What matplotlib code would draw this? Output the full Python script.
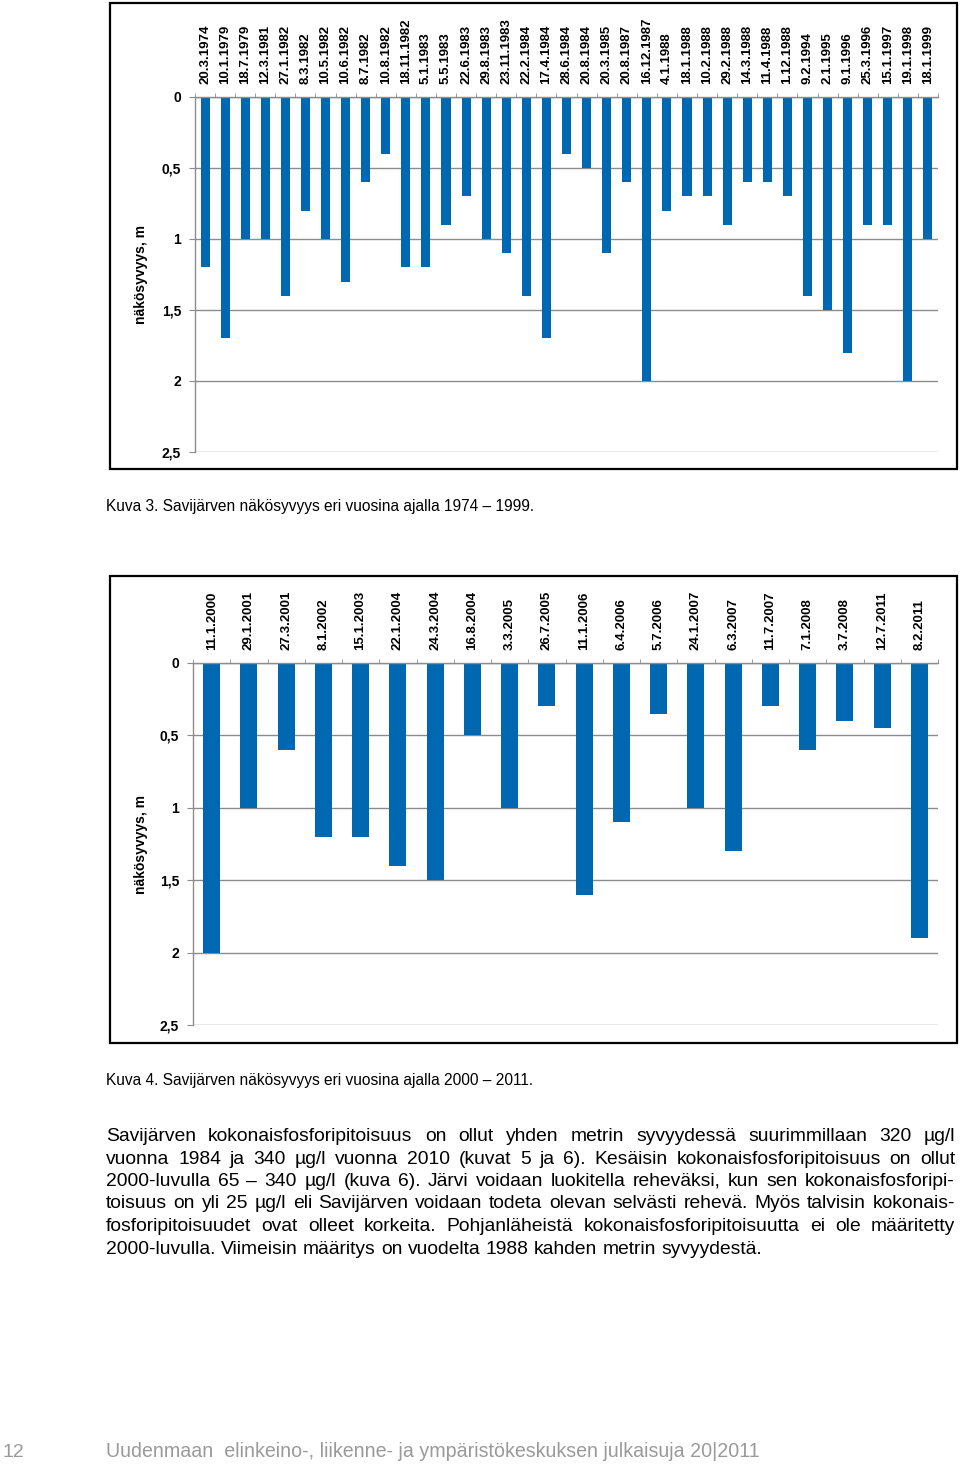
import matplotlib.pyplot as plt
from matplotlib.patches import Rectangle
from matplotlib.ticker import FixedLocator
import numpy as np

plt.rcParams['font.family'] = ['Liberation Sans', 'DejaVu Sans']

# Kuva 3 data (1974-1999)
dates_1 = ["20.3.1974", "10.1.1979", "18.7.1979", "12.3.1981", "27.1.1982", "8.3.1982",
           "10.5.1982", "10.6.1982", "8.7.1982", "10.8.1982", "18.11.1982", "5.1.1983",
           "5.5.1983", "22.6.1983", "29.8.1983", "23.11.1983", "22.2.1984", "17.4.1984",
           "28.6.1984", "20.8.1984", "20.3.1985", "20.8.1987", "16.12.1987", "4.1.1988",
           "18.1.1988", "10.2.1988", "29.2.1988", "14.3.1988", "11.4.1988", "1.12.1988",
           "9.2.1994", "2.1.1995", "9.1.1996", "25.3.1996", "15.1.1997", "19.1.1998",
           "18.1.1999"]
depth_1 = [1.2, 1.7, 1.0, 1.0, 1.4, 0.8, 1.0, 1.3, 0.6, 0.4, 1.2, 1.2, 0.9, 0.7, 1.0, 1.1,
           1.4, 1.7, 0.4, 0.5, 1.1, 0.6, 2.0, 0.8, 0.7, 0.7, 0.9, 0.6, 0.6, 0.7, 1.4, 1.5,
           1.8, 0.9, 0.9, 2.0, 1.0]

# Kuva 4 data (2000-2011)
dates_2 = ["11.1.2000", "29.1.2001", "27.3.2001", "8.1.2002", "15.1.2003", "22.1.2004",
           "24.3.2004", "16.8.2004", "3.3.2005", "26.7.2005", "11.1.2006", "6.4.2006",
           "5.7.2006", "24.1.2007", "6.3.2007", "11.7.2007", "7.1.2008", "3.7.2008",
           "12.7.2011", "8.2.2011"]
depth_2 = [2.0, 1.0, 0.6, 1.2, 1.2, 1.4, 1.5, 0.5, 1.0, 0.3, 1.6, 1.1, 0.35, 1.0, 1.3,
           0.3, 0.6, 0.4, 0.45, 1.9]

y_ticks = [0, 0.5, 1, 1.5, 2, 2.5]
y_labels = ["0", "0,5", "1", "1,5", "2", "2,5"]

W, H = 960, 1464
BLUE = '#0067B1'
GRID = '#8c8c8c'

fig = plt.figure(figsize=(W / 100, H / 100), dpi=100)


def fx(px):
    return px / W


def fy(py):
    return 1 - py / H


def frame(x0, y0, x1, y1):
    fig.patches.append(Rectangle((fx(x0), fy(y1)), fx(x1 - x0), (y1 - y0) / H,
                                 transform=fig.transFigure, fill=False,
                                 edgecolor='black', lw=1.6))


def bar_chart(dates, depth, left, right, top, bottom, label_pad, ylab_y):
    ax = fig.add_axes([fx(left), fy(bottom), fx(right - left), (bottom - top) / H])
    n = len(dates)
    x = np.arange(n)
    ax.bar(x, depth, width=0.45, color=BLUE, zorder=3)
    ax.set_xlim(-0.5, n - 0.5)
    ax.set_ylim(2.5, 0)
    ax.xaxis.tick_top()
    ax.set_xticks(x)
    ax.set_xticklabels(dates, rotation=90, fontsize=9.5, fontweight='bold')
    ax.xaxis.set_minor_locator(FixedLocator(np.arange(n + 1) - 0.5))
    ax.tick_params(axis='x', which='major', length=0, pad=label_pad)
    ax.tick_params(axis='x', which='minor', length=3, color=GRID, direction='out', top=True)
    ax.set_yticks(y_ticks)
    ax.set_yticklabels(y_labels, fontsize=10, fontweight='bold')
    ax.tick_params(axis='y', length=4, color=GRID, pad=6)
    ax.grid(axis='y', color=GRID, lw=1, zorder=0)
    for s in ['right', 'bottom']:
        ax.spines[s].set_visible(False)
    for s in ['top', 'left']:
        ax.spines[s].set_color(GRID)
        ax.spines[s].set_linewidth(1)
    ax.spines['top'].set_zorder(4)
    fig.text(fx(141), fy(ylab_y), "näkösyvyys, m", rotation=90, fontsize=10,
             fontweight='bold', ha='center', va='center')
    return ax


frame(110, 3, 957, 469)
bar_chart(dates_1, depth_1, 195, 938, 97, 452, 9, 275)
fig.text(fx(106), fy(511), "Kuva 3. Savijärven näkösyvyys eri vuosina ajalla 1974 – 1999.",
         fontsize=11.2, va='baseline')

frame(110, 576, 957, 1043)
bar_chart(dates_2, depth_2, 193, 938, 663, 1025, 9, 844)
fig.text(fx(106), fy(1085), "Kuva 4. Savijärven näkösyvyys eri vuosina ajalla 2000 – 2011.",
         fontsize=11.2, va='baseline')

# justified paragraph
para = [
    "Savijärven kokonaisfosforipitoisuus on ollut yhden metrin syvyydessä suurimmillaan 320 µg/l",
    "vuonna 1984 ja 340 µg/l vuonna 2010 (kuvat 5 ja 6). Kesäisin kokonaisfosforipitoisuus on ollut",
    "2000-luvulla 65 – 340 µg/l (kuva 6). Järvi voidaan luokitella reheväksi, kun sen kokonaisfosforipi-",
    "toisuus on yli 25 µg/l eli Savijärven voidaan todeta olevan selvästi rehevä. Myös talvisin kokonais-",
    "fosforipitoisuudet ovat olleet korkeita. Pohjanläheistä kokonaisfosforipitoisuutta ei ole määritetty",
    "2000-luvulla. Viimeisin määritys on vuodelta 1988 kahden metrin syvyydestä.",
]
FS = 13.9
r = fig.canvas.get_renderer()
x0, x1 = 106, 955
for i, line in enumerate(para):
    y = 1141 + i * 22.5
    words = line.split(' ')
    texts = [fig.text(0, fy(y), w, fontsize=FS, va='baseline') for w in words]
    widths = [t.get_window_extent(r).width for t in texts]
    if i == len(para) - 1:
        sp = fig.text(0, 0, "a a", fontsize=FS)
        sa = fig.text(0, 0, "aa", fontsize=FS)
        gap = sp.get_window_extent(r).width - sa.get_window_extent(r).width
        sp.remove()
        sa.remove()
    else:
        gap = (x1 - x0 - sum(widths)) / (len(words) - 1)
    x = x0
    for t, w in zip(texts, widths):
        t.set_x(fx(x))
        x += w + gap

fig.text(fx(2), fy(1457), "12", fontsize=14, color='#9a9a9a', va='baseline')
fig.text(fx(106), fy(1457),
         "Uudenmaan  elinkeino-, liikenne- ja ympäristökeskuksen julkaisuja 20|2011",
         fontsize=14.1, color='#9a9a9a', va='baseline')

fig.savefig('out.png', dpi=100)
